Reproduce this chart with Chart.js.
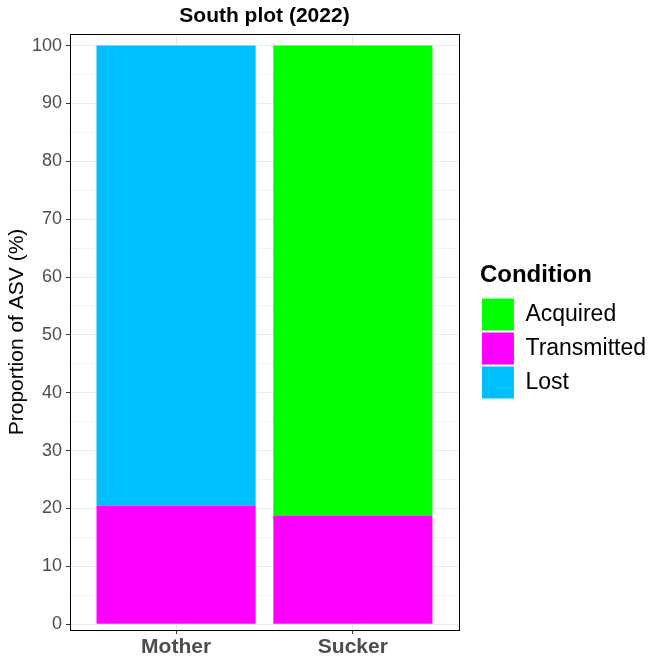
<!DOCTYPE html>
<html>
<head>
<meta charset="utf-8">
<script src="https://cdn.jsdelivr.net/npm/chart.js@4"></script>
<style>
  html, body { margin: 0; padding: 0; background: #fff; }
  canvas { display: block; }
</style>
</head>
<body>
<canvas id="chart" width="664" height="664"></canvas>
<script>
// --- data ---
const categories = ['Mother', 'Sucker'];
const legendOrder = ['Acquired', 'Transmitted', 'Lost'];
const transmitted = [20.5, 18.7];
const acquired = [0, 81.3];
const lost = [79.5, 0];
const yMajorTicks = [0, 10, 20, 30, 40, 50, 60, 70, 80, 90, 100];
const yMinorTicks = [5, 15, 25, 35, 45, 55, 65, 75, 85, 95];

const FONT = "'Liberation Sans', Arial, sans-serif";
const GAP = 21; // space between panel and legend

// bars sit on a numeric x axis so the outer padding matches ggplot (0.6 each side)
const toPoints = vals => vals.map((v, i) => ({ x: i + 1, y: v }));

// black frame around the plot panel
const panelBorder = {
  id: 'panelBorder',
  afterDraw(chart) {
    const { ctx, chartArea: a } = chart;
    ctx.save();
    ctx.strokeStyle = '#000';
    ctx.lineWidth = 1;
    ctx.strokeRect(Math.round(a.left) + 0.5, Math.round(a.top) + 0.5,
      Math.round(a.right - a.left), Math.round(a.bottom - a.top));
    ctx.restore();
  }
};

const ctx = document.getElementById('chart').getContext('2d');

new Chart(ctx, {
  type: 'bar',
  data: {
    datasets: [
      { label: 'Transmitted', data: toPoints(transmitted), backgroundColor: '#FF00FF', borderWidth: 0 },
      { label: 'Acquired', data: toPoints(acquired), backgroundColor: '#00FF00', borderWidth: 0 },
      { label: 'Lost', data: toPoints(lost), backgroundColor: '#00BFFF', borderWidth: 0 }
    ]
  },
  options: {
    responsive: false,
    animation: false,
    devicePixelRatio: 1,
    layout: { padding: { left: 0, top: 0, bottom: 0, right: 8 } },
    datasets: { bar: { barPercentage: 0.9, categoryPercentage: 1 } },
    plugins: {
      tooltip: { enabled: false },
      title: {
        display: true,
        text: 'South plot (2022)',
        color: '#000',
        fullSize: false,
        font: { family: FONT, size: 21, weight: 'bold', lineHeight: 1.2 },
        padding: { top: 4, bottom: 4.8 }
      },
      legend: {
        position: 'right',
        align: 'center',
        maxWidth: 400,
        title: {
          display: true,
          text: 'Condition',
          color: '#000',
          position: 'start',
          font: { family: FONT, size: 24, weight: 'bold', lineHeight: 1.2 },
          padding: { top: 0, bottom: 4 }
        },
        labels: {
          color: '#000',
          font: { family: FONT, size: 23 },
          boxWidth: 32,
          boxHeight: 32,
          padding: 2,
          sort: (a, b) => legendOrder.indexOf(a.text) - legendOrder.indexOf(b.text)
        }
      }
    },
    scales: {
      x: {
        type: 'linear',
        stacked: true,
        min: 0.4,
        max: 2.6,
        offset: false,
        afterBuildTicks: s => { s.ticks = categories.map((c, i) => ({ value: i + 1 })); },
        afterFit: s => { s.height = 34; },
        border: { display: false },
        grid: { color: '#EBEBEB', offset: false, tickColor: '#333', tickLength: 4 },
        ticks: {
          autoSkip: false,
          maxRotation: 0,
          padding: 1,
          color: '#4D4D4D',
          font: { family: FONT, size: 21, weight: 'bold' },
          callback: v => categories[v - 1]
        }
      },
      y: {
        stacked: true,
        min: -1,
        max: 102,
        afterBuildTicks: s => {
          s.ticks = yMajorTicks.concat(yMinorTicks).sort((a, b) => a - b).map(v => ({ value: v }));
        },
        afterFit: s => { s.width = 70; },
        border: { display: false },
        grid: {
          color: c => (c.tick && c.tick.value % 10 === 0 ? '#EBEBEB' : '#F5F5F5'),
          tickColor: c => (c.tick && c.tick.value % 10 === 0 ? '#333' : 'rgba(0,0,0,0)'),
          tickLength: 4
        },
        ticks: {
          autoSkip: false,
          padding: 4,
          color: '#4D4D4D',
          font: { family: FONT, size: 18 },
          callback: v => (yMajorTicks.includes(v) ? String(v) : '')
        },
        title: {
          display: true,
          text: 'Proportion of ASV (%)',
          color: '#000',
          font: { family: FONT, size: 21, lineHeight: 1.2 },
          padding: { top: 4.5, bottom: 0 }
        }
      },
      gap: {
        type: 'linear',
        position: 'right',
        grid: { display: false },
        border: { display: false },
        ticks: { display: false },
        afterFit: s => { s.width = GAP; }
      }
    }
  },
  plugins: [panelBorder]
});
</script>
</body>
</html>
